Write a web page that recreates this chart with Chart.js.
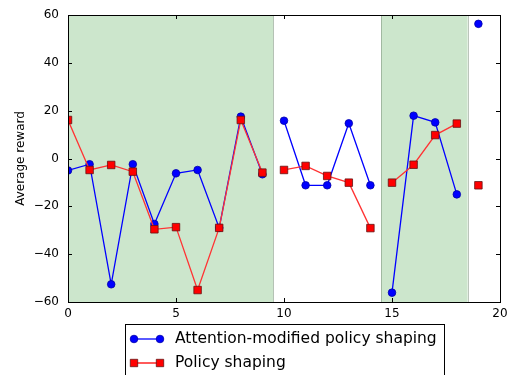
<!DOCTYPE html>
<html>
<head>
<meta charset="utf-8">
<script src="https://cdn.jsdelivr.net/npm/chart.js@4"></script>
<style>
  html, body { margin: 0; padding: 0; background: #fff; }
  #wrap { width: 513px; height: 375px; }
</style>
</head>
<body>
<div id="wrap"><canvas id="chart"></canvas></div>
<script>
// données
const episodes = [0, 1, 2, 3, 4, 5, 6, 7, 8, 9, 10, 11, 12, 13, 14, 15, 16, 17, 18, 19];
const attentionShaping = [-5, -2.4, -52.6, -2.4, -27.4, -6.2, -4.8, -29, 17.5, -6.6,
                          15.8, -11.2, -11.2, 14.7, -11.2, -56.1, 17.9, 15.1, -15, 56.3];
const policyShaping = [16.1, -4.8, -2.7, -5.5, -29.6, -28.7, -55, -29, 16.1, -5.9,
                       -4.8, -3.1, -7.3, -10.1, -29.1, -10.1, -2.6, 9.8, 14.6, -11.2];
// coupures des courbes et zones vertes
const breaks = [9.5, 14.5, 18.5];
const greenZones = [[0, 9.5], [14.5, 18.5]];
const xTicks = [0, 5, 10, 15, 20];
const yTicks = [-60, -40, -20, 0, 20, 40, 60];

// construit les points avec un null à chaque coupure
function buildPoints(values) {
    const pts = [];
    episodes.forEach(function (x, i) {
        breaks.forEach(function (b) {
            if (i > 0 && episodes[i - 1] < b && x > b) pts.push({ x: b, y: null });
        });
        pts.push({ x: x, y: values[i] });
    });
    return pts;
}

const FONT = 'DejaVu Sans';

// zones vertes + cadre + graduations vers l'intérieur + légende
const decorPlugin = {
    id: 'decor',
    beforeDatasetsDraw(chart) {
        const { ctx, chartArea, scales } = chart;
        ctx.save();
        greenZones.forEach(function (z) {
            const x0 = scales.x.getPixelForValue(z[0]);
            const x1 = scales.x.getPixelForValue(z[1]);
            ctx.fillStyle = 'rgba(0,128,0,0.2)';
            ctx.fillRect(x0, chartArea.top, x1 - x0, chartArea.bottom - chartArea.top);
            ctx.strokeStyle = 'rgba(60,90,60,0.35)';
            ctx.lineWidth = 1;
            [x0, x1].forEach(function (px) {
                if (px > chartArea.left + 1 && px < chartArea.right - 1) {
                    ctx.beginPath();
                    ctx.moveTo(Math.round(px) + 0.5, chartArea.top);
                    ctx.lineTo(Math.round(px) + 0.5, chartArea.bottom);
                    ctx.stroke();
                }
            });
        });
        ctx.restore();
    },
    afterDraw(chart) {
        const { ctx, chartArea, scales } = chart;
        const L = chartArea.left, R = chartArea.right, T = chartArea.top, B = chartArea.bottom;
        ctx.save();
        ctx.strokeStyle = '#000';
        ctx.lineWidth = 1;
        // graduations
        ctx.beginPath();
        xTicks.forEach(function (v) {
            const px = Math.round(scales.x.getPixelForValue(v)) + 0.5;
            ctx.moveTo(px, B); ctx.lineTo(px, B - 4);
            ctx.moveTo(px, T); ctx.lineTo(px, T + 4);
        });
        yTicks.forEach(function (v) {
            const py = Math.round(scales.y.getPixelForValue(v)) + 0.5;
            ctx.moveTo(L, py); ctx.lineTo(L + 4, py);
            ctx.moveTo(R, py); ctx.lineTo(R - 4, py);
        });
        ctx.stroke();
        // cadre
        ctx.strokeRect(Math.round(L) + 0.5, Math.round(T) + 0.5, Math.round(R - L), Math.round(B - T));

        // légende sous le graphique
        const bx = 125.5, by = 324.5;
        ctx.fillStyle = '#fff';
        ctx.fillRect(bx, by, 319, 60);
        ctx.strokeRect(bx, by, 319, 60);
        const entries = [
            { label: 'Attention-modified policy shaping', color: '#0000ff', edge: '#0000aa', shape: 'circle', y: 339 },
            { label: 'Policy shaping', color: '#ff0000', edge: '#661111', shape: 'square', y: 363 }
        ];
        entries.forEach(function (e) {
            ctx.strokeStyle = e.color;
            ctx.lineWidth = 1.3;
            ctx.beginPath();
            ctx.moveTo(134, e.y); ctx.lineTo(160, e.y);
            ctx.stroke();
            [134, 160].forEach(function (mx) {
                ctx.fillStyle = e.color;
                ctx.strokeStyle = e.edge;
                ctx.lineWidth = 0.8;
                ctx.beginPath();
                if (e.shape === 'circle') ctx.arc(mx, e.y, 3.8, 0, Math.PI * 2);
                else ctx.rect(mx - 3.7, e.y - 3.7, 7.4, 7.4);
                ctx.fill(); ctx.stroke();
            });
            ctx.fillStyle = '#000';
            ctx.font = '15.5px "' + FONT + '"';
            ctx.textBaseline = 'middle';
            ctx.textAlign = 'left';
            ctx.fillText(e.label, 175, e.y);
        });
        ctx.restore();
    }
};

new Chart(document.getElementById('chart'), {
    type: 'line',
    data: {
        datasets: [
            {
                label: 'Attention-modified policy shaping',
                data: buildPoints(attentionShaping),
                borderColor: '#0000ff',
                backgroundColor: '#0000ff',
                pointBorderColor: '#0000aa',
                borderWidth: 1.3,
                pointBorderWidth: 0.8,
                pointStyle: 'circle',
                pointRadius: 3.8,
                tension: 0,
                spanGaps: false,
                order: 2
            },
            {
                label: 'Policy shaping',
                data: buildPoints(policyShaping),
                borderColor: '#ff3333',
                backgroundColor: '#ff0000',
                pointBorderColor: '#661111',
                borderWidth: 1.3,
                pointBorderWidth: 0.8,
                pointStyle: 'rect',
                pointRadius: 5.3,
                tension: 0,
                spanGaps: false,
                order: 1
            }
        ]
    },
    options: {
        responsive: true,
        maintainAspectRatio: false,
        animation: false,
        layout: { padding: { top: 15, right: 13, bottom: 53, left: 0 } },
        plugins: {
            legend: { display: false },
            tooltip: { enabled: false }
        },
        scales: {
            x: {
                type: 'linear',
                min: 0, max: 20,
                afterBuildTicks: function (scale) { scale.ticks = xTicks.map(v => ({ value: v })); },
                afterFit: function (scale) { scale.height = 20; },
                grid: { display: false },
                border: { display: false },
                ticks: { color: '#000', font: { family: FONT, size: 12 }, padding: -3, maxRotation: 0 }
            },
            y: {
                min: -60, max: 60,
                afterBuildTicks: function (scale) { scale.ticks = yTicks.map(v => ({ value: v })); },
                afterFit: function (scale) { scale.width = 68; },
                grid: { display: false },
                border: { display: false },
                title: { display: true, text: 'Average reward', color: '#000', font: { family: FONT, size: 12 }, padding: { top: 14, bottom: 0 } },
                ticks: {
                    color: '#000', font: { family: FONT, size: 12 }, padding: 1,
                    // signe moins typographique comme matplotlib
                    callback: function (v) { return String(v).replace('-', '\u2212'); }
                }
            }
        }
    },
    plugins: [decorPlugin]
});
</script>
</body>
</html>
